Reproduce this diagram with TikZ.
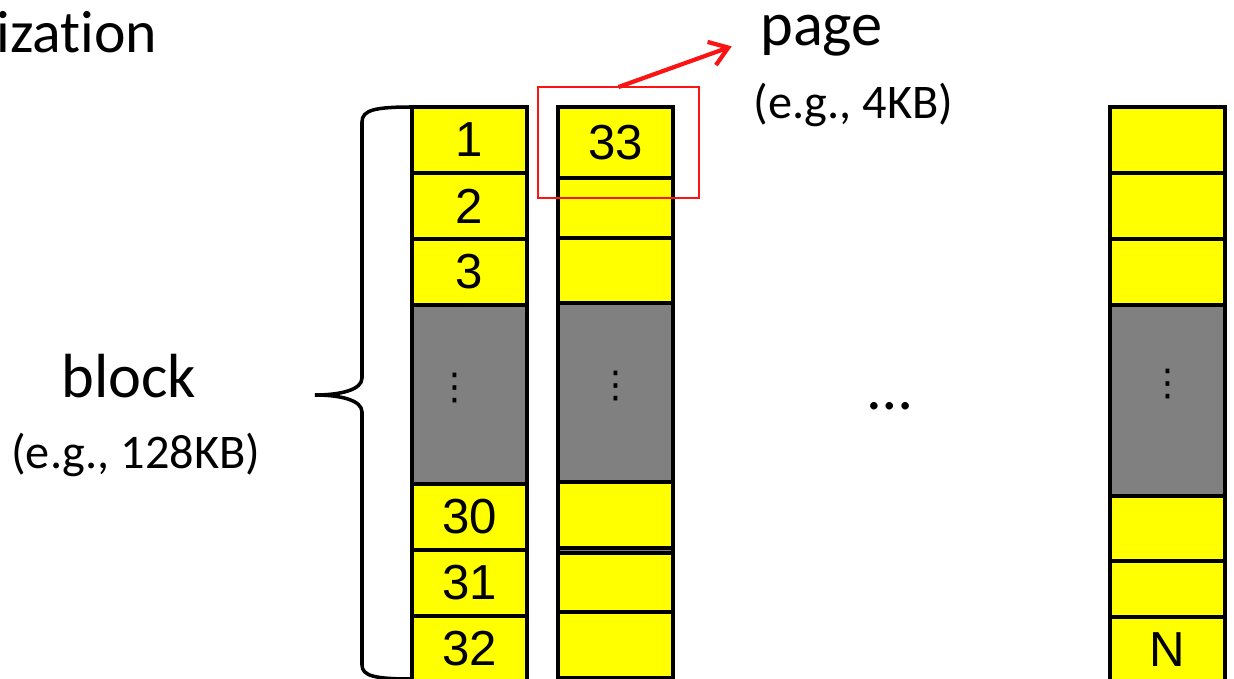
\documentclass[tikz,border=0pt]{standalone}
\usepackage{fontspec}
\setmainfont{Carlito}[Ligatures=NoCommon]
\newfontfamily\numfont{Liberation Sans}
\newfontfamily\symfont{DejaVu Sans}
\usepackage{tikz}
\usetikzlibrary{arrows.meta, positioning}
\definecolor{cellyellow}{RGB}{255,255,0}
\definecolor{cellgray}{RGB}{128,128,128}
\definecolor{markred}{RGB}{250,20,20}

\begin{document}
\begin{tikzpicture}[
  x = 0.02cm, y = -0.02cm,
  cell/.style    = {rectangle, draw=black, line width=2pt, fill=cellyellow,
                    minimum width=2.3cm, minimum height=1.32cm, inner sep=0pt,
                    outer sep=0pt, font=\numfont\fontsize{28}{32}\selectfont},
  filler/.style  = {cell, fill=cellgray},
  dotcol/.style  = {inner sep=0pt, font=\symfont\fontsize{21}{24}\selectfont},
  biglabel/.style= {inner sep=0pt, anchor=base west,
                    font=\fontsize{35.5}{40}\selectfont},
  sublabel/.style= {inner sep=0pt, anchor=base west,
                    font=\fontsize{27.5}{32}\selectfont},
  pagebox/.style = {draw=markred, line width=1.4pt, inner sep=0pt, outer sep=0pt},
  redarr/.style  = {-{Straight Barb[length=10pt,width=14pt]}, line width=2.4pt, markred},
]
  \useasboundingbox (0,0) rectangle (1234,679);

  % first block: pages 1..32
  \node[cell, anchor=north west] (a1) at (412,107) {1};
  \node[cell, below=0pt of a1]  (a2)  {2};
  \node[cell, below=0pt of a2]  (a3)  {3};
  \node[filler, minimum height=3.58cm, below=0pt of a3] (ag) {};
  \node[cell, below=0pt of ag]  (a30) {30};
  \node[cell, below=0pt of a30] (a31) {31};
  \node[cell, below=0pt of a31] (a32) {32};

  % second block
  \node[cell, anchor=north west, minimum height=1.42cm] (b1) at (558,107) {33};
  \node[cell, minimum height=1.2cm,  below=0pt of b1] (b2) {};
  \node[cell, minimum height=1.3cm,  below=0pt of b2] (b3) {};
  \node[filler, minimum height=3.58cm, below=0pt of b3] (bg) {};
  \node[cell, below=0pt of bg] (b4) {};
  \node[filler, minimum height=0.1cm, below=0pt of b4] (bs) {};
  \node[cell, minimum height=1.18cm, below=0pt of bs] (b5) {};
  \node[cell, below=0pt of b5] (b6) {};

  % last block
  \node[cell, anchor=north west] (c1) at (1110,107) {};
  \node[cell, below=0pt of c1] (c2) {};
  \node[cell, below=0pt of c2] (c3) {};
  \node[filler, minimum height=3.82cm, below=0pt of c3] (cg) {};
  \node[cell, minimum height=1.3cm,  below=0pt of cg] (c4) {};
  \node[cell, minimum height=1.12cm, below=0pt of c4] (c5) {};
  \node[cell, below=0pt of c5] (c6) {N};

  % elided pages
  \node[dotcol] (ad) at ([xshift=-0.29cm, yshift=0.13cm]ag.center) {⋮};
  \node[dotcol] (bd) at ([yshift=0.12cm]bg.center) {⋮};
  \node[dotcol] (cd) at ([yshift=0.32cm]cg.center) {⋮};

  % brace over the first block
  \draw[line width=2pt]
    (412,107) .. controls (375,107) and (362,110) .. (362,122)
    -- (362,378) .. controls (362,390) and (340,395) .. (315,395)
    .. controls (340,395) and (362,400) .. (362,412)
    -- (362,665) .. controls (362,676) and (375,679) .. (412,679);

  % labels
  \node[biglabel, font=\fontsize{34}{40}\selectfont] (org) at (-4,53) {ization};
  \node[biglabel] (blk)    at (61,397)  {block};
  \node[sublabel] (blksz)  at (11,468)  {(e.g., 128KB)};
  \node[biglabel] (page)   at (760,46)  {page};
  \node[sublabel] (pagesz) at (753,118) {(e.g., 4KB)};
  \node[biglabel, anchor=base] (more) at (890,409) {…};

  % highlighted page
  \node[pagebox, minimum width=3.22cm, minimum height=2.22cm] (sel) at (618.5,142.5) {};
  \draw[redarr, shorten >=0.6cm] (sel.north) -- (page.west);
\end{tikzpicture}
\end{document}
